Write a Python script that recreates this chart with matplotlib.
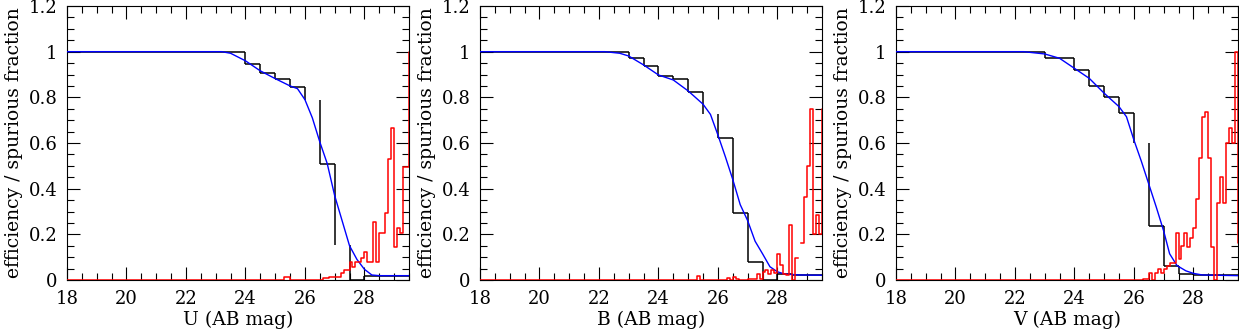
import matplotlib
matplotlib.use("Agg")
import matplotlib.pyplot as plt
import numpy as np
from matplotlib.ticker import MultipleLocator, FormatStrFormatter

plt.rcParams['font.family'] = ['DejaVu Serif']

bands = ["U", "B", "V"]

# efficiency histogram: 0.5 mag bins starting at 18.0
EFF_START, EFF_WIDTH = 18.0, 0.5
u_eff = [1.0] * 12 + [0.945, 0.905, 0.879, 0.845, 0.79, 0.51, 0.155, 0.0, 0.018, 0.018, 0.018]
b_eff = [1.0] * 10 + [0.971, 0.936, 0.892, 0.882, 0.822, 0.726, 0.62, 0.292, 0.08, 0.0, 0.025, 0.022, 0.022]
v_eff = [1.0] * 10 + [0.971, 0.974, 0.918, 0.848, 0.80, 0.733, 0.60, 0.238, 0.06, 0.026, 0.022, 0.02, 0.02]
# bins whose flat top is not drawn in the original
u_eff_gaps = [26.0, 27.0]
b_eff_gaps = [25.5]
v_eff_gaps = [26.0]

# smooth efficiency curve
u_fit_mag = [18, 23.2, 23.5, 24.0, 24.5, 25.0, 25.5, 25.75, 26.0, 26.25, 26.5, 26.75, 27.0, 27.25, 27.5, 27.75, 28.0, 28.25, 28.5, 29.5]
u_fit_val = [1, 1, 0.993, 0.96, 0.916, 0.882, 0.85, 0.838, 0.79, 0.71, 0.605, 0.51, 0.37, 0.26, 0.15, 0.09, 0.047, 0.022, 0.019, 0.019]
b_fit_mag = [18, 22.2, 22.7, 23.0, 23.5, 24.0, 24.5, 25.0, 25.5, 25.75, 26.0, 26.25, 26.5, 26.75, 27.0, 27.25, 27.5, 27.75, 28.0, 28.25, 28.75, 29.5]
b_fit_val = [1, 1, 0.993, 0.981, 0.942, 0.898, 0.876, 0.828, 0.77, 0.725, 0.635, 0.54, 0.44, 0.33, 0.26, 0.17, 0.115, 0.058, 0.036, 0.026, 0.022, 0.021]
v_fit_mag = [18, 22.3, 22.5, 23.0, 23.5, 24.0, 24.5, 25.0, 25.5, 25.75, 26.0, 26.25, 26.5, 26.75, 27.0, 27.2, 27.45, 27.75, 28.0, 28.3, 29.5]
v_fit_val = [1, 1, 0.997, 0.99, 0.971, 0.927, 0.883, 0.818, 0.759, 0.715, 0.613, 0.52, 0.42, 0.32, 0.215, 0.115, 0.063, 0.04, 0.029, 0.022, 0.019]

# spurious fraction: 0.1 mag bins from 25.0 (zero below that)
SPUR_START, SPUR_WIDTH = 25.0, 0.1
nan = np.nan
u_spur = [0, 0, 0, 0.012, 0.012] + [0] * 11 + [
    0.01, 0.01, 0.014, 0.014, 0.012, 0.012, 0.03, 0.044, 0.044, 0.08,
    0.058, 0.08, 0.08, 0.095, 0.124, 0.08, 0.08, 0.255, 0.08, 0.207,
    0.207, 0.292, 0.528, 0.664, 0.146, 0.226, 0.204, 0.496, 0.496, 1.0]
b_spur = [0, 0, 0, 0.018] + [0] * 9 + [
    0.01, 0, 0.015, 0.006, 0, 0, 0, 0.004, 0.004, 0.004, 0.025,
    0.003, 0.035, 0.044, 0.025, 0.045, 0.03, 0.114, 0.066, 0.025, 0.02,
    0.24, 0.0, 0.095, nan, 0.16, 0.365, 0.5, 0.75, 0.2, 0.285, 0.2, 0.75]
v_spur = [0] * 13 + [0.006, 0.006, 0.029, 0.0, 0.029, 0.047, 0.029, 0.047, 0.063,
    0.073, 0.073, 0.207, 0.09, 0.149, 0.207, 0.146, 0.182, 0.226, 0.353,
    0.533, 0.715, 0.737, 0.533, 0.146, 0.0, 0.336, 0.453, 0.336, 0.598,
    0.664, 0.6, 1.0, 0.16]

effs = [u_eff, b_eff, v_eff]
gaps = [u_eff_gaps, b_eff_gaps, v_eff_gaps]
fits = [(u_fit_mag, u_fit_val), (b_fit_mag, b_fit_val), (v_fit_mag, v_fit_val)]
spurs = [u_spur, b_spur, v_spur]

W, H = 1239, 331
fig = plt.figure(figsize=(W / 100, H / 100), dpi=100)
lefts = [67, 480, 896]

for i, band in enumerate(bands):
    ax = fig.add_axes([lefts[i] / W, 51 / H, 342 / W, 274 / H])

    # black efficiency histogram
    lev = np.array(effs[i])
    edges = EFF_START + EFF_WIDTH * np.arange(len(lev) + 1)
    show = ~np.isin(edges[:-1], gaps[i])
    ax.hlines(lev[show], edges[:-1][show], edges[1:][show], color='black', lw=1.1, zorder=2)
    ax.vlines(edges[1:-1], lev[:-1], lev[1:], color='black', lw=1.1, zorder=2)

    # blue fit
    ax.plot(fits[i][0], fits[i][1], color='#0000ff', lw=1.0, zorder=2.6)

    # red spurious fraction histogram
    sp = np.concatenate([np.zeros(int(round((SPUR_START - 18.0) / SPUR_WIDTH))), spurs[i]])
    sedges = 18.0 + SPUR_WIDTH * np.arange(len(sp) + 1)
    ax.plot(np.repeat(sedges, 2)[1:-1], np.repeat(sp, 2), color='#ff0000', lw=1.1, zorder=3)

    ax.set_xlim(18, 29.5)
    ax.set_ylim(0, 1.2)
    ax.xaxis.set_major_locator(MultipleLocator(2))
    ax.xaxis.set_minor_locator(MultipleLocator(0.5))
    ax.yaxis.set_major_locator(MultipleLocator(0.2))
    ax.yaxis.set_minor_locator(MultipleLocator(0.05))
    ax.yaxis.set_major_formatter(FormatStrFormatter('%g'))
    ax.tick_params(which='both', direction='in', top=True, right=True, width=0.8, labelsize=13, pad=7)
    ax.tick_params(which='major', length=9.5)
    ax.tick_params(which='minor', length=4.7)
    for s in ax.spines.values():
        s.set_linewidth(0.8)
    ax.set_xlabel(f"{band} (AB mag)", fontsize=13.5, labelpad=2)
    ax.set_ylabel("efficiency / spurious fraction", fontsize=13.5, labelpad=4)

fig.savefig("out.png", dpi=100)
